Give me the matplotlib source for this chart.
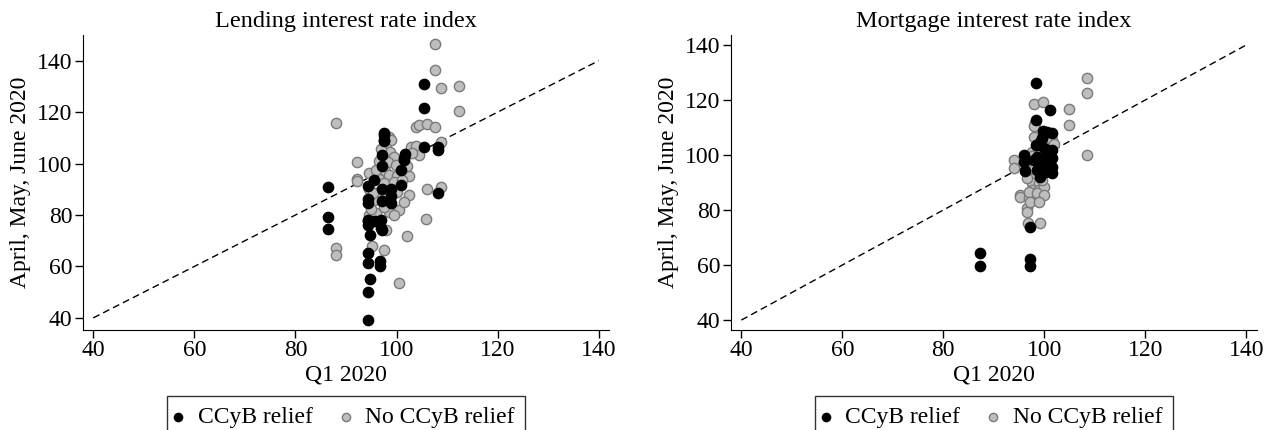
import numpy as np
import matplotlib
matplotlib.use("Agg")
import matplotlib.pyplot as plt

plt.rcParams['font.family'] = ['Liberation Serif', 'DejaVu Serif']

# Lending interest rate index: (Q1 2020, April-June 2020)
lend_relief_x = [105.4, 105.4, 97.5, 97.5, 97.5, 97.5, 105.4, 108.3, 108.3, 97.1, 101.6, 101.5,
                 101.5, 97.1, 100.8, 95.5, 94.4, 97.1, 99.0, 99.0, 100.8, 86.5, 108.3, 94.4,
                 94.4, 97.1, 99.0, 86.5, 86.5, 94.4, 94.4, 94.4, 95.7, 96.9, 97.1, 96.9,
                 94.7, 94.4, 94.4, 96.7, 96.7, 94.7, 94.4, 94.4]
lend_relief_y = [131.1, 121.8, 111.8, 111.1, 109.2, 108.6, 106.3, 106.3, 105.3, 103.4, 103.6, 102.1,
                 101.4, 99.1, 97.5, 93.6, 91.1, 90.0, 90.0, 87.4, 91.5, 90.8, 88.7, 86.1,
                 84.6, 85.5, 84.6, 79.1, 74.7, 78.1, 77.5, 76.2, 77.5, 78.1, 74.0, 74.9,
                 72.3, 65.2, 61.3, 62.3, 60.2, 55.1, 50.0, 39.3]

lend_norelief_x = [107.7, 107.7, 108.8, 112.4, 112.4, 88.1, 103.8, 104.5, 106.1, 107.7, 98.5, 98.9,
                   102.8, 103.8, 104.5, 108.8, 92.2, 92.2, 92.2, 94.6, 102.5, 106.1, 108.8, 102.5,
                   100.5, 105.8, 102.1, 100.5, 88.1, 88.1, 95.1, 97.6, 94.6, 95.9, 97.9, 98.5,
                   98.0, 98.8, 99.5, 98.3, 99.8, 97.8, 98.5, 100.0, 96.5, 97.5, 99.5, 101.0,
                   96.0, 98.0, 100.0, 95.5, 97.5, 95.0, 99.5, 101.5, 103.0, 102.0, 96.5, 97.0,
                   96.0, 94.5, 95.3]
lend_norelief_y = [146.4, 136.5, 129.3, 130.3, 120.6, 115.9, 114.1, 115.0, 115.2, 114.4, 110.5, 109.2,
                   106.6, 106.9, 103.4, 108.5, 100.8, 94.0, 93.4, 96.2, 95.2, 90.2, 90.8, 87.6,
                   82.0, 78.4, 71.9, 53.6, 67.1, 64.5, 68.0, 66.5, 80.1, 80.7, 74.2, 81.3,
                   106.0, 104.5, 102.5, 100.5, 99.5, 97.0, 95.5, 95.0, 94.0, 92.5, 93.0, 93.5,
                   88.5, 88.0, 89.0, 86.0, 83.0, 82.5, 80.0, 85.0, 104.0, 99.0, 101.0, 105.5,
                   97.5, 90.0, 88.5]

# Mortgage interest rate index
mort_relief_x = [98.3, 101.2, 98.3, 99.8, 101.5, 99.2, 98.3, 95.9, 95.9, 96.1, 98.5, 99.2,
                 98.5, 99.2, 101.5, 101.5, 101.5, 101.5, 100.2, 99.0, 100.5, 98.0, 100.0, 97.1,
                 87.3, 87.3, 97.1, 97.1, 100.8, 101.0, 99.5, 100.5]
mort_relief_y = [126.2, 116.3, 112.7, 108.8, 107.9, 104.8, 103.6, 100.0, 97.6, 94.3, 99.4, 97.6,
                 94.5, 92.1, 101.8, 98.8, 95.8, 93.3, 93.9, 96.0, 100.5, 98.0, 102.5, 73.9,
                 64.5, 59.6, 62.3, 59.6, 100.8, 97.0, 106.0, 108.5]

mort_norelief_x = [108.4, 108.4, 97.9, 99.8, 104.8, 104.8, 108.4, 94.0, 94.0, 98.2, 98.0, 97.9,
                   101.5, 102.0, 97.5, 97.0, 98.0, 97.5, 99.0, 97.5, 99.0, 100.0, 95.2, 95.2,
                   96.9, 98.5, 96.5, 96.5, 96.7, 99.2, 97.0, 98.5, 99.5, 100.0, 98.0, 96.5,
                   97.5, 99.0, 97.2, 99.0]
mort_norelief_y = [127.9, 122.4, 118.5, 119.4, 116.6, 110.9, 100.1, 98.2, 95.2, 111.5, 110.5, 106.7,
                   105.4, 104.0, 101.0, 97.5, 92.0, 89.7, 89.7, 87.3, 87.3, 88.5, 85.4, 84.6,
                   84.2, 84.2, 80.6, 79.4, 75.2, 75.4, 86.5, 86.0, 91.0, 85.5, 95.0, 91.5,
                   99.5, 100.0, 83.0, 82.8]

ticks = [40, 60, 80, 100, 120, 140]

panels = [
    ("Lending interest rate index", lend_relief_x, lend_relief_y, lend_norelief_x, lend_norelief_y, (35.3, 150)),
    ("Mortgage interest rate index", mort_relief_x, mort_relief_y, mort_norelief_x, mort_norelief_y, (36.4, 143.6)),
]

fig = plt.figure(figsize=(12.71, 4.30), dpi=100)
positions = [[0.065, 0.2326, 0.414, 0.686], [0.5749, 0.2326, 0.4137, 0.686]]

for pos, (title, rx, ry, nx, ny, ylim) in zip(positions, panels):
    ax = fig.add_axes(pos)
    ax.plot([40, 140], [40, 140], color='black', linestyle=(0, (5, 3)), linewidth=1, zorder=1)
    g = ax.scatter(nx, ny, s=55, color='#bebebe', edgecolors='#7a7a7a', linewidths=1, zorder=2,
                   label='No CCyB relief')
    b = ax.scatter(rx, ry, s=55, color='black', edgecolors='black', linewidths=1, zorder=3,
                   label='CCyB relief')
    ax.set_xlim(37.9, 142)
    ax.set_ylim(*ylim)
    ax.set_xticks(ticks)
    ax.set_yticks(ticks)
    ax.spines['top'].set_visible(False)
    ax.spines['right'].set_visible(False)
    ax.tick_params(direction='out', length=6, width=1, labelsize=17, pad=1.5)
    ax.set_xlabel('Q1 2020', fontsize=17, labelpad=2)
    ax.set_ylabel('April, May, June 2020', fontsize=17, labelpad=4)
    ax.text(0.5, 1.027, title, transform=ax.transAxes, ha='center', va='baseline', fontsize=17.5)
    leg = ax.legend(handles=[b, g], loc='upper center', bbox_to_anchor=(0.5, -0.224), ncol=2,
                    fontsize=17, frameon=True, fancybox=False, edgecolor='black',
                    markerscale=0.8, handletextpad=0.76, columnspacing=1.35, handlelength=0.1,
                    borderpad=0.45, borderaxespad=0)
    leg.get_frame().set_linewidth(1)

fig.savefig('out.png', dpi=100)
